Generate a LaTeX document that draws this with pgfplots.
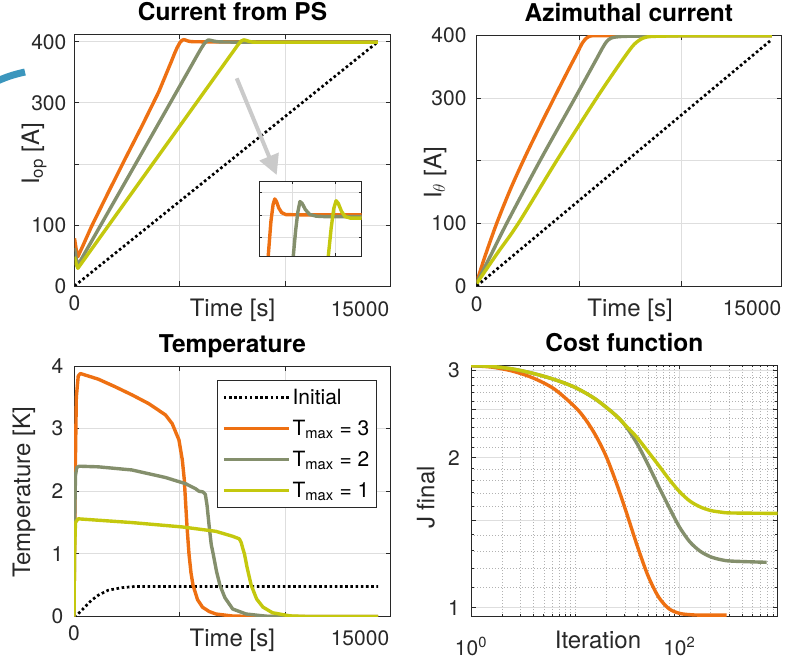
\documentclass[border=0pt]{standalone}
\usepackage{fontspec}
\setmainfont{TeX Gyre Heros}
\usepackage{pgfplots}
\pgfplotsset{compat=1.18}
\usetikzlibrary{arrows.meta}
\definecolor{cOr}{RGB}{238,112,18}
\definecolor{cGr}{RGB}{132,143,108}
\definecolor{cYe}{RGB}{196,200,14}
\definecolor{cAx}{RGB}{40,40,40}
\definecolor{cArc}{RGB}{59,150,189}
\definecolor{cArrow}{RGB}{202,202,202}
\newcommand\tickfont{\fontsize{21}{24}\selectfont}
\newcommand\labfont{\fontsize{24}{28}\selectfont}
\pgfplotsset{
  myax/.style={
    scale only axis,
    scaled x ticks=false, scaled y ticks=false,
    axis line style={cAx, line width=0.9pt},
    tick style={cAx, line width=0.8pt},
    tick align=inside,
    major tick length=4.5pt,
    minor tick length=2.5pt,
    major grid style={black!13, line width=0.8pt},
    tick label style={font=\tickfont, text=cAx},
    xticklabel style={anchor=base, inner sep=0pt},
    yticklabel style={anchor=east, inner sep=0pt},
    label style={font=\labfont, text=cAx},
    xlabel style={anchor=base},
    title style={font=\bfseries\fontsize{24.5}{28}\selectfont, at={(rel axis cs:0.5,1)}, anchor=base, yshift=8pt},
  },
  pl/.style={line width=3.4pt, line join=round},
  dotline/.style={black, line width=2.7pt, dash pattern=on 2.6pt off 2.6pt},
}
% ---------- data: current from PS ----------
\pgfplotstableread{
x y
0 78
80 60
160 48
400 66
800 97
1600 153
2400 208
3200 262
4000 318
4600 368
4750 381
4880 391
5000 398.5
5100 402.3
5180 403.6
5260 403.0
5360 401.6
5500 400.5
5700 400.05
6500 400
14400 400
}\psOr
\pgfplotstableread{
x y
0 62
80 45
160 34
3000 206
5500 358
5850 379.5
6040 390.7
6150 396.5
6250 400.6
6350 403.0
6450 402.6
6600 401.2
6800 400.1
7100 399.7
7500 399.6
14400 399.6
}\psGr
\pgfplotstableread{
x y
0 48
80 36
160 29
4000 214
7300 373
7668 390.7
7800 397
7920 401.4
8030 403.2
8130 402.6
8280 400.8
8450 399.6
8700 399.25
14400 399.25
}\psYe
\begin{document}
\begin{tikzpicture}
\path[use as bounding box] (0,0) rectangle (792pt,665pt);
% ================= A1 =================
\begin{axis}[myax, at={(74.5pt,379pt)}, anchor=south west,
  width=316pt, height=251.5pt,
  xmin=0, xmax=15000, ymin=0, ymax=412,
  xtick={0,5000,10000,15000}, xticklabels={0,{},{},{}},
  ytick={0,100,200,300,400}, yticklabels={0,100,{},300,400},
  grid=major,
  xticklabel style={yshift=-24.5pt},
  yticklabel style={xshift=-8pt},
  xlabel={Time [s]}, xlabel style={at={(rel axis cs:0.5,0)}, yshift=-30.5pt},
  title={Current from PS}]
\addplot[dotline] coordinates {(0,0) (14400,400)};
\addplot[pl, cOr] table[x=x,y=y] {\psOr};
\addplot[pl, cGr] table[x=x,y=y] {\psGr};
\addplot[pl, cYe] table[x=x,y=y] {\psYe};
\end{axis}
% inset
\begin{axis}[at={(259.3pt,409pt)}, anchor=south west, scale only axis,
  width=102.4pt, height=74.3pt,
  xmin=4460, xmax=9220, ymin=390.7, ymax=407.5,
  xtick={6000,8000}, ytick={395,400,405},
  xticklabels={}, yticklabels={},
  grid=major, major grid style={black!13, line width=0.6pt},
  axis line style={cAx, line width=0.7pt},
  tick style={cAx, line width=0.6pt},
  tick align=inside, major tick length=2.5pt,
  axis background/.style={fill=white}]
\addplot[pl, cOr] table[x=x,y=y] {\psOr};
\addplot[pl, cGr] table[x=x,y=y] {\psGr};
\addplot[pl, cYe] table[x=x,y=y] {\psYe};
\end{axis}
\draw[line width=4pt, cArrow, -{Triangle[length=20pt, width=20pt]}] (236.7pt,586.7pt) -- (276.7pt,490pt);
% ================= A2 =================
\begin{axis}[myax, at={(476.7pt,379pt)}, anchor=south west,
  width=304.3pt, height=250.3pt,
  xmin=0, xmax=14850, ymin=0, ymax=400,
  xtick={0,5000,10000,15000}, xticklabels={0,{},{},{}},
  ytick={0,100,200,300,400}, yticklabels={0,100,{},300,400},
  grid=major,
  xticklabel style={yshift=-25pt},
  yticklabel style={xshift=-10pt},
  xlabel={Time [s]}, xlabel style={at={(rel axis cs:0.504,0)}, yshift=-30.5pt},
  title={Azimuthal current}]
\addplot[dotline] coordinates {(0,0) (14330,392)};
\addplot[pl, cOr, smooth] coordinates {(0,6) (400,47) (974,100) (1650,155) (2354,206) (3080,255) (3815,303) (4500,347) (4900,372) (5150,388) (5350,396) (5550,399.5) (5800,400) (6500,400) (14400,400)};
\addplot[pl, cGr, smooth] coordinates {(0,5) (700,50) (1461,100) (3084,200) (4789,300) (5800,360) (6150,381) (6350,391) (6550,396) (6800,398) (7300,399) (8500,399.7) (10000,400) (14400,400)};
\addplot[pl, cYe, smooth] coordinates {(0,4) (1000,52) (2029,100) (3896,200) (5844,300) (7000,356) (7600,383) (7900,392) (8150,396.5) (8500,398.7) (9500,399.6) (10500,400) (14400,400)};
\end{axis}
% ================= A3 =================
\begin{axis}[myax, at={(74pt,48.5pt)}, anchor=south west,
  width=316.7pt, height=250.5pt,
  xmin=0, xmax=15000, ymin=0, ymax=4,
  xtick={0,5000,10000,15000}, xticklabels={0,{},{},{}},
  ytick={0,1,2,3,4}, yticklabels={0,1,2,3,4},
  grid=major,
  xticklabel style={yshift=-23.5pt},
  yticklabel style={xshift=-10.5pt},
  xlabel={Time [s]}, xlabel style={at={(rel axis cs:0.5,0)}, yshift=-30pt},
  title={Temperature},
  legend style={at={(rel axis cs:1,1)}, anchor=north east, xshift=-14pt, yshift=-14pt,
    draw=cAx, line width=0.8pt, fill=white, font=\fontsize{21}{24}\selectfont,
    inner xsep=5pt, inner ysep=7pt, row sep=10pt, cells={anchor=west}},
  legend image code/.code={\draw[#1] (0pt,0pt) -- (65pt,0pt);}]
\addplot[dotline] coordinates {(0,0) (190,0.04) (510,0.15) (830,0.26) (1150,0.34) (1620,0.42) (2260,0.46) (2900,0.48) (14400,0.48)};
\addlegendentry{Initial}
\addplot[pl, cOr] coordinates {(0,0) (30,1.2) (60,2.3) (110,3.5) (200,3.84) (300,3.88) (1150,3.79) (1940,3.67) (2740,3.54) (3535,3.40) (4330,3.22) (4650,3.08) (4970,2.82) (5130,2.50) (5225,2.18) (5255,2.0) (5350,1.45) (5446,1.0) (5540,0.70) (5637,0.5) (5850,0.27) (6083,0.15) (6400,0.08) (6720,0.04) (7500,0.008) (8500,0) (14400,0)};
\addlegendentry{T\textsubscript{max} = 3}
\addplot[pl, cGr] coordinates {(0,0) (30,1.5) (70,2.25) (130,2.38) (250,2.40) (1150,2.39) (2740,2.34) (4330,2.22) (5290,2.12) (5760,2.04) (5920,2.00) (6100,1.99) (6220,1.95) (6300,1.78) (6400,1.45) (6500,1.15) (6592,1.0) (6750,0.72) (6911,0.5) (7150,0.30) (7516,0.12) (8150,0.04) (9100,0.005) (10000,0) (14400,0)};
\addlegendentry{T\textsubscript{max} = 2}
\addplot[pl, cYe] coordinates {(0,0) (25,1.0) (70,1.5) (190,1.56) (2740,1.50) (5130,1.43) (6720,1.36) (7520,1.28) (7830,1.24) (7920,1.18) (8000,1.08) (8073,1.0) (8200,0.78) (8392,0.5) (8650,0.28) (8949,0.15) (9400,0.06) (10223,0.01) (11000,0) (14400,0)};
\addlegendentry{T\textsubscript{max} = 1}
\end{axis}
% ================= A4 =================
\begin{axis}[myax, at={(471pt,49pt)}, anchor=south west,
  width=306.7pt, height=251pt,
  xmode=log, ymode=log,
  xmin=1, xmax=880, ymin=0.962, ymax=3.07,
  xtick={1,100}, xticklabels={10\textsuperscript{0},10\textsuperscript{2}},
  minor xtick={2,3,4,5,6,7,8,9,10,20,30,40,50,60,70,80,90,200,300,400,500,600,700,800},
  ytick={1,1.5,2,2.5,3}, yticklabels={1,{},2,{},3},
  minor ytick={1.1,1.2,1.3,1.4,1.6,1.7,1.8,1.9,2.1,2.2,2.3,2.4,2.6,2.7,2.8,2.9},
  grid=both,
  minor grid style={black!30, line width=0.6pt, dash pattern=on 0.8pt off 2.2pt},
  xticklabel style={yshift=-39pt},
  yticklabel style={xshift=-11pt},
  xlabel={Iteration}, xlabel style={at={(rel axis cs:0.414,0)}, yshift=-32pt},
  title={Cost function}]
\addplot[pl, cOr, smooth] coordinates {(1,3.06) (1.585,3.04) (2.512,2.984) (3.981,2.889) (6.310,2.747) (10,2.527) (12.59,2.386) (15.85,2.211) (19.95,2.007) (25.12,1.769) (31.62,1.534) (39.81,1.323) (50.12,1.158) (63.10,1.051) (79.43,0.995) (100,0.974) (125.9,0.968) (158.5,0.966) (285,0.966)};
\addplot[pl, cGr, smooth] coordinates {(1,3.06) (1.585,3.049) (2.512,3.014) (3.981,2.952) (6.310,2.871) (10,2.767) (15.85,2.618) (25.12,2.422) (31.62,2.292) (39.81,2.124) (50.12,1.937) (63.10,1.754) (79.43,1.593) (100,1.453) (125.9,1.356) (158.5,1.298) (199.5,1.265) (251.2,1.248) (316.2,1.240) (688.7,1.233)};
\addplot[pl, cYe, smooth] coordinates {(1,3.06) (1.585,3.049) (2.512,3.014) (3.981,2.952) (6.310,2.871) (10,2.767) (15.85,2.618) (25.12,2.422) (31.62,2.302) (39.81,2.188) (63.10,1.932) (79.43,1.812) (100,1.711) (125.9,1.637) (158.5,1.593) (199.5,1.567) (251.2,1.555) (316.2,1.549) (879,1.546)};
\end{axis}
% ---------- free labels ----------
\node[rotate=90, anchor=south, font=\labfont, text=cAx] at (50pt,511pt) {I\textsubscript{op} [A]};
\node[rotate=90, anchor=south, font=\labfont, text=cAx] at (450pt,492pt) {I$_\theta$ [A]};
\node[rotate=90, anchor=south, font=\labfont, text=cAx] at (39pt,172.5pt) {Temperature [K]};
\node[rotate=90, anchor=south, font=\labfont, text=cAx] at (438.3pt,167.5pt) {J final};
\node[anchor=base, font=\tickfont, text=cAx, inner sep=0pt] at (360pt,349pt) {15000};
\node[anchor=base, font=\tickfont, text=cAx, inner sep=0pt] at (752pt,350pt) {15000};
\node[anchor=base, font=\tickfont, text=cAx, inner sep=0pt] at (360pt,20pt) {15000};
\draw[line width=7pt, cArc] (-6pt,582.5pt) to[bend left=6] (25pt,593pt);
\end{tikzpicture}
\end{document}
